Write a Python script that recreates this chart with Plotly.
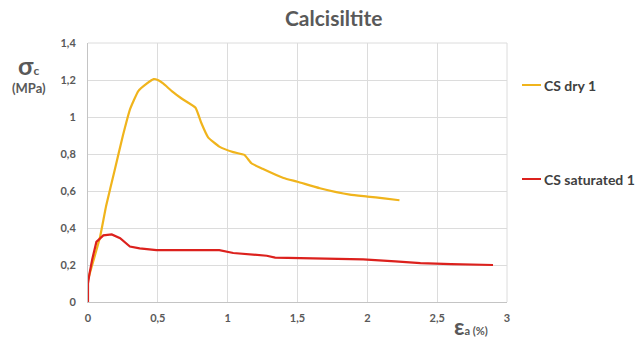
import plotly.graph_objects as go

# CS dry 1
dry_x = [0.0, 0.03, 0.06, 0.086, 0.13, 0.19, 0.25, 0.30, 0.36, 0.42, 0.47, 0.50, 0.54, 0.60, 0.67, 0.77,
         0.81, 0.86, 0.94, 1.04, 1.12, 1.17, 1.25, 1.40, 1.50, 1.66, 1.875, 2.0, 2.12, 2.23]
dry_y = [0.12, 0.20, 0.28, 0.35, 0.52, 0.71, 0.90, 1.04, 1.14, 1.18, 1.205, 1.20, 1.18, 1.14, 1.10, 1.05,
         0.97, 0.89, 0.84, 0.81, 0.795, 0.75, 0.72, 0.67, 0.65, 0.615, 0.58, 0.57, 0.56, 0.55]

# CS saturated 1
sat_x = [0.0, 0.0, 0.01, 0.03, 0.06, 0.11, 0.17, 0.23, 0.30, 0.37, 0.49, 0.70, 0.94, 1.04, 1.28, 1.34,
         1.66, 1.97, 2.20, 2.38, 2.60, 2.90]
sat_y = [0.0, 0.10, 0.15, 0.23, 0.325, 0.36, 0.365, 0.345, 0.30, 0.29, 0.28, 0.28, 0.28, 0.265, 0.25, 0.24,
         0.235, 0.23, 0.22, 0.21, 0.205, 0.20]

x_ticks = [0, 0.5, 1, 1.5, 2, 2.5, 3]
x_labels = ["0", "0,5", "1", "1,5", "2", "2,5", "3"]
y_ticks = [0, 0.2, 0.4, 0.6, 0.8, 1.0, 1.2, 1.4]
y_labels = ["0", "0,2", "0,4", "0,6", "0,8", "1", "1,2", "1,4"]

DRY = "#F0B41C"
SAT = "#DC211D"
TXT = "#595959"
FONT = "Lato"

fig = go.Figure()
fig.add_trace(go.Scatter(x=dry_x, y=dry_y, mode="lines", name="CS dry 1",
                         line=dict(color=DRY, width=2.2, shape="spline", smoothing=0.4)))
fig.add_trace(go.Scatter(x=sat_x, y=sat_y, mode="lines", name="CS saturated 1",
                         line=dict(color=SAT, width=2.2)))

fig.update_layout(
    width=638, height=340,
    margin=dict(l=88, r=131, t=43, b=38),
    paper_bgcolor="white", plot_bgcolor="white",
    separators=", ",
    showlegend=False,
    font=dict(family=FONT, color=TXT),
    title=dict(text="<b>Calcisiltite</b>", x=0.523, xanchor="center", y=0.945, yanchor="middle",
               font=dict(size=21, color=TXT, family=FONT)),
)
fig.update_xaxes(range=[0, 3], tickvals=x_ticks, ticktext=["<b>" + t + "</b>" for t in x_labels],
                 showgrid=True, gridcolor="#DCDCDC", gridwidth=1, zeroline=False,
                 showline=True, linecolor="#C4C4C4", linewidth=1,
                 tickfont=dict(size=11, color=TXT, family=FONT), ticks="", ticklabelstandoff=6)
fig.update_yaxes(range=[0, 1.4], tickvals=y_ticks, ticktext=["<b>" + t + "</b>" for t in y_labels],
                 showgrid=True, gridcolor="#DCDCDC", gridwidth=1, zeroline=False,
                 showline=True, linecolor="#C4C4C4", linewidth=1,
                 tickfont=dict(size=11, color=TXT, family=FONT), ticks="", ticklabelstandoff=9)

# top and right border lines (grid-like)
fig.add_shape(type="line", xref="paper", yref="paper", x0=0, x1=1, y0=1, y1=1, line=dict(color="#DCDCDC", width=1))
fig.add_shape(type="line", xref="paper", yref="paper", x0=1, x1=1, y0=0, y1=1, line=dict(color="#DCDCDC", width=1))

# axis labels
fig.add_annotation(xref="paper", yref="paper", x=-0.142, y=0.915, xanchor="center", yanchor="middle",
                   text="<b>σ<span style='font-size:12px'>c</span></b>", showarrow=False,
                   font=dict(size=25, color=TXT, family=FONT))
fig.add_annotation(xref="paper", yref="paper", x=-0.142, y=0.825, xanchor="center", yanchor="middle",
                   text="<b>(MPa)</b>", showarrow=False, font=dict(size=13, color=TXT, family=FONT))
fig.add_annotation(xref="paper", yref="paper", x=0.915, y=-0.093, xanchor="center", yanchor="middle",
                   text="<b><span style='font-size:23px'>ε</span>a (%)</b>", showarrow=False,
                   font=dict(size=11, color=TXT, family=FONT))

# legend
for name, col, ypx in [("CS dry 1", DRY, 85), ("CS saturated 1", SAT, 179)]:
    yp = 1 - (ypx - 43) / 259
    fig.add_shape(type="line", xref="paper", yref="paper", x0=(522 - 88) / 419, x1=(541 - 88) / 419,
                  y0=yp, y1=yp, line=dict(color=col, width=2))
    fig.add_annotation(xref="paper", yref="paper", x=(542 - 88) / 419, y=yp, xanchor="left", yanchor="middle",
                       text="<b>" + name + "</b>", showarrow=False, font=dict(size=14, color="#404040", family=FONT))

fig.write_html("out.html")
